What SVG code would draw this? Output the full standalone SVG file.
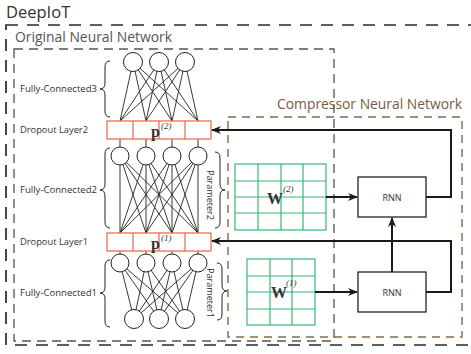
<svg xmlns="http://www.w3.org/2000/svg" width="471" height="354" viewBox="0 0 471 354">
<style>
.lbl{font-family:"Open Sans","Liberation Sans",sans-serif;font-size:9px;fill:#333}
.ttl{font-family:"Open Sans","Liberation Sans",sans-serif;fill:#333}
.net{stroke:#222;stroke-width:0.9;fill:none}
.neu{stroke:#222;stroke-width:1;fill:#fff}
.drop{stroke:#f07050;stroke-width:1.3;fill:#fff}
.grid{stroke:#35b874;stroke-width:1.2;fill:none}
.brace{stroke:#222;stroke-width:1;fill:none}
.conn{stroke:#1a1a1a;stroke-width:2;fill:none}
.rnn{stroke:#222;stroke-width:1.3;fill:#fff}
.math{font-family:"Liberation Serif","DejaVu Serif",serif;fill:#333}
</style>
<defs>
<marker id="ah" markerWidth="10" markerHeight="8" refX="9" refY="4" orient="auto" markerUnits="userSpaceOnUse">
<path d="M0,0 L10,4 L0,8 L3,4 Z" fill="#1a1a1a"/>
</marker>
</defs>
<g id="outer">
<rect x="6" y="25" width="470" height="320" fill="none" stroke="#2a2a2a" stroke-width="1.7" stroke-dasharray="12,9"/>
<text class="ttl" x="6" y="18" font-size="16.5">DeepIoT</text>
</g>
<g id="original">
<rect x="14" y="49" width="320" height="292" fill="none" stroke="#555" stroke-width="1.3" stroke-dasharray="9,6"/>
<text class="ttl" x="15" y="42" font-size="14" style="fill:#555" textLength="157" lengthAdjust="spacingAndGlyphs">Original Neural Network</text>
</g>
<g id="compressor">
<rect x="228" y="117" width="234" height="220" fill="none" stroke="#8a6a4a" stroke-width="1.4" stroke-dasharray="8,6"/>
<text class="ttl" x="462" y="109" font-size="14" text-anchor="end" style="fill:#7b5a3c" textLength="185" lengthAdjust="spacingAndGlyphs">Compressor Neural Network</text>
</g>
<g id="fc3">
<g class="net">
<path d="M133,62 L120,121 M133,62 L146,121 M133,62 L172,121 M133,62 L198,121"/>
<path d="M159,62 L120,121 M159,62 L146,121 M159,62 L172,121 M159,62 L198,121"/>
<path d="M185,62 L120,121 M185,62 L146,121 M185,62 L172,121 M185,62 L198,121"/>
</g>
<circle class="neu" cx="133" cy="62" r="9.5"/>
<circle class="neu" cx="159" cy="62" r="9.5"/>
<circle class="neu" cx="185" cy="62" r="9.5"/>
<path class="brace" d="M110,61 Q105,61 105,67 L105,83 Q105,89 100,89 Q105,89 105,95 L105,111 Q105,117 110,117"/>
<text class="lbl" x="20" y="92" textLength="77" lengthAdjust="spacingAndGlyphs">Fully-Connected3</text>
</g>
<g id="fc2">
<g class="net">
<path d="M120,139 L120,147 M146,139 L146,147 M172,139 L172,147 M198,139 L198,147"/>
<path d="M120,156 L120,233 M120,156 L146,233 M120,156 L172,233 M120,156 L198,233"/>
<path d="M146,156 L120,233 M146,156 L146,233 M146,156 L172,233 M146,156 L198,233"/>
<path d="M172,156 L120,233 M172,156 L146,233 M172,156 L172,233 M172,156 L198,233"/>
<path d="M198,156 L120,233 M198,156 L146,233 M198,156 L172,233 M198,156 L198,233"/>
</g>
<circle class="neu" cx="120" cy="156" r="9"/>
<circle class="neu" cx="146" cy="156" r="9"/>
<circle class="neu" cx="172" cy="156" r="9"/>
<circle class="neu" cx="198" cy="156" r="9"/>
<path class="brace" d="M110,148 Q105,148 105,154 L105,184 Q105,190 100,190 Q105,190 105,196 L105,222 Q105,228 110,228"/>
<text class="lbl" x="20" y="193" textLength="77" lengthAdjust="spacingAndGlyphs">Fully-Connected2</text>
<path class="brace" d="M215,152 Q220,152 220,158 L220,184 Q220,190 225,190 Q220,190 220,196 L220,222 Q220,228 215,228"/>
<text class="lbl" transform="translate(207,170) rotate(90)" textLength="50" lengthAdjust="spacingAndGlyphs">Parameter2</text>
</g>
<g id="fc1">
<g class="net">
<path d="M120,251 L120,254 M146,251 L146,254 M172,251 L172,254 M198,251 L198,254"/>
<path d="M120,263 L134,319 M120,263 L159,319 M120,263 L185,319"/>
<path d="M146,263 L134,319 M146,263 L159,319 M146,263 L185,319"/>
<path d="M172,263 L134,319 M172,263 L159,319 M172,263 L185,319"/>
<path d="M198,263 L134,319 M198,263 L159,319 M198,263 L185,319"/>
</g>
<circle class="neu" cx="120" cy="263" r="9"/>
<circle class="neu" cx="146" cy="263" r="9"/>
<circle class="neu" cx="172" cy="263" r="9"/>
<circle class="neu" cx="198" cy="263" r="9"/>
<circle class="neu" cx="134" cy="319" r="9.5"/>
<circle class="neu" cx="159" cy="319" r="9.5"/>
<circle class="neu" cx="185" cy="319" r="9.5"/>
<path class="brace" d="M110,260 Q105,260 105,266 L105,287 Q105,293 100,293 Q105,293 105,299 L105,321 Q105,327 110,327"/>
<text class="lbl" x="20" y="296" textLength="77" lengthAdjust="spacingAndGlyphs">Fully-Connected1</text>
<path class="brace" d="M217,263 Q222,263 222,269 L222,285 Q222,291 227,291 Q222,291 222,297 L222,314 Q222,320 217,320"/>
<text class="lbl" transform="translate(207,268) rotate(90)" textLength="50" lengthAdjust="spacingAndGlyphs">Parameter1</text>
</g>
<g id="dropout2">
<rect class="drop" x="107" y="121" width="104" height="18"/>
<path d="M133,121 V139 M159,121 V139 M185,121 V139" stroke="#f07050" stroke-width="1.3"/>
<text class="lbl" x="20" y="133" textLength="68" lengthAdjust="spacingAndGlyphs">Dropout Layer2</text>
<text class="math" x="151" y="137" font-size="16" font-weight="bold">p</text>
<text class="math" x="161" y="129" font-size="9" font-style="italic">(2)</text>
</g>
<g id="dropout1">
<rect class="drop" x="107" y="233" width="104" height="18"/>
<path d="M133,233 V251 M159,233 V251 M185,233 V251" stroke="#f07050" stroke-width="1.3"/>
<text class="lbl" x="20" y="245" textLength="68" lengthAdjust="spacingAndGlyphs">Dropout Layer1</text>
<text class="math" x="151" y="249" font-size="16" font-weight="bold">p</text>
<text class="math" x="161" y="241" font-size="9" font-style="italic">(1)</text>
</g>
<g id="w2">
<rect class="grid" x="235" y="164" width="91" height="66"/>
<path class="grid" d="M258,164 V230 M281,164 V230 M303,164 V230 M235,181 H326 M235,197 H326 M235,213 H326"/>
<text class="math" x="267" y="204" font-size="16" font-weight="bold">W</text>
<text class="math" x="283" y="192" font-size="9" font-style="italic">(2)</text>
</g>
<g id="w1">
<rect class="grid" x="247" y="259" width="68" height="66"/>
<path class="grid" d="M270,259 V325 M292,259 V325 M247,276 H315 M247,292 H315 M247,309 H315"/>
<text class="math" x="271" y="298" font-size="16" font-weight="bold">W</text>
<text class="math" x="286" y="286" font-size="9" font-style="italic">(1)</text>
</g>
<g id="rnn2">
<rect class="rnn" x="358" y="177" width="68" height="40"/>
<text class="lbl" x="392" y="201" text-anchor="middle" font-size="10">RNN</text>
</g>
<g id="rnn1">
<rect class="rnn" x="358" y="272" width="68" height="40"/>
<text class="lbl" x="392" y="296" text-anchor="middle" font-size="10">RNN</text>
</g>
<g id="connectors">
<path class="conn" d="M326,197 L357,197" marker-end="url(#ah)"/>
<path class="conn" d="M315,292 L357,292" marker-end="url(#ah)"/>
<path class="conn" d="M392,272 L392,218" marker-end="url(#ah)"/>
<path class="conn" d="M426,197 L451,197 L451,130 L212,130" marker-end="url(#ah)"/>
<path class="conn" d="M426,292 L451,292 L451,241 L212,241" marker-end="url(#ah)"/>
</g>
</svg>
